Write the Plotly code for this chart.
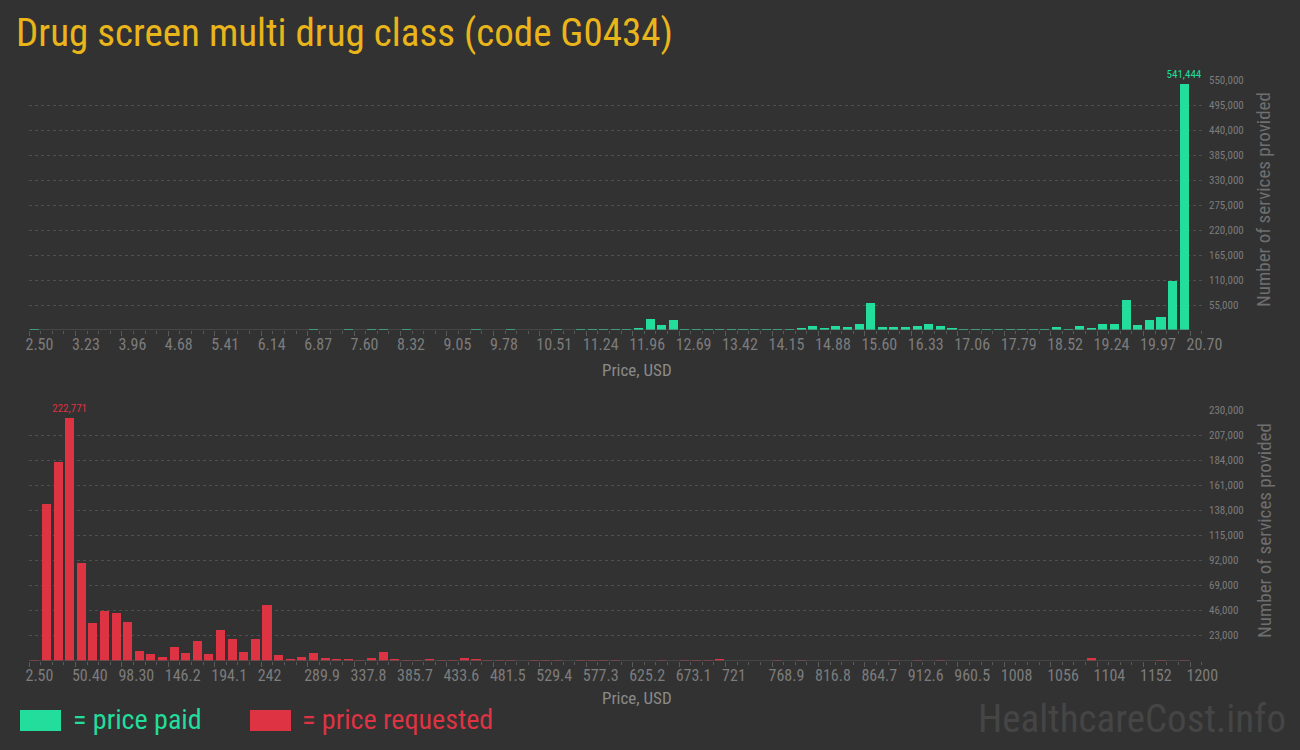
import plotly.graph_objects as go

# ---------------- data ----------------
title_text = "Drug screen multi drug class (code G0434)"

paid_tick_labels = ["2.50", "3.23", "3.96", "4.68", "5.41", "6.14", "6.87", "7.60", "8.32", "9.05",
                    "9.78", "10.51", "11.24", "11.96", "12.69", "13.42", "14.15", "14.88", "15.60",
                    "16.33", "17.06", "17.79", "18.52", "19.24", "19.97", "20.70"]
requested_tick_labels = ["2.50", "50.40", "98.30", "146.2", "194.1", "242", "289.9", "337.8", "385.7",
                         "433.6", "481.5", "529.4", "577.3", "625.2", "673.1", "721", "768.9", "816.8",
                         "864.7", "912.6", "960.5", "1008", "1056", "1104", "1152", "1200"]

paid_min, paid_max = 2.50, 20.70
requested_min, requested_max = 2.50, 1200.0

paid_counts = [
    2200, 0, 0, 0, 0, 0, 0, 0, 0, 0,
    0, 0, 0, 0, 0, 0, 0, 0, 0, 0,
    0, 0, 0, 0, 2200, 0, 0, 2200, 0, 2200,
    2200, 0, 2200, 0, 0, 0, 0, 0, 2200, 0,
    0, 2200, 0, 0, 0, 2200, 0, 2200, 2200, 2200,
    2200, 2200, 4300, 23900, 10100, 21000, 2200, 2200, 2200, 2200,
    2200, 2200, 2200, 2200, 2200, 2200, 4300, 8000, 3600, 8000,
    5800, 12300, 58500, 5800, 5800, 5800, 8000, 12300, 8000, 3600,
    2200, 2200, 2200, 2200, 2200, 2200, 2200, 2200, 5800, 2200,
    8000, 3600, 12300, 12300, 67000, 12000, 21000, 29500, 107000, 541444,
]
requested_counts = [
    900, 143800, 182400, 222771, 89700, 34600, 45600, 43800, 35500, 8900,
    6100, 3400, 12500, 7000, 18000, 6100, 28200, 19900, 8000, 19900,
    51100, 5300, 1700, 3300, 7000, 2400, 1700, 1700, 900, 2400,
    7900, 1700, 900, 900, 1700, 900, 900, 2400, 1700, 900,
    900, 900, 0, 900, 900, 900, 0, 900, 900, 900,
    900, 0, 0, 0, 900, 0, 900, 900, 900, 1700,
    0, 0, 0, 0, 900, 0, 900, 0, 0, 0,
    0, 0, 0, 0, 900, 0, 900, 0, 900, 0,
    0, 0, 0, 0, 0, 0, 0, 0, 0, 0,
    0, 2400, 0, 0, 0, 0, 0, 900, 0, 900,
]
paid_y_ticks = [55000 * i for i in range(1, 11)]
requested_y_ticks = [23000 * i for i in range(1, 11)]

# ---------------- styles ----------------
BG = "#323232"
GREEN = "#22dd9b"
RED = "#de3343"
GOLD = "#e9b51b"
TICK_COL = "#7c7c7c"
GRID_COL = "#4f4f4f"
AXIS_COL = "#5a5a5a"
FONT = "Roboto Condensed, Liberation Sans Narrow, Arial Narrow, DejaVu Sans Condensed, Roboto, sans-serif"

W, H = 1300, 750
x_left_px, x_axis_end_px, x_grid_end_px = 29, 1190, 1205


def px_to_paper_x(p):
    return p / W


def px_to_paper_y(p):
    return 1 - p / H


def build(counts, lo, hi):
    n = len(counts)
    bw = (hi - lo) / n
    centers = [lo + (i + 0.5) * bw for i in range(n)]
    per_px = (hi - lo) / (x_axis_end_px - x_left_px)
    rng = [lo, lo + (x_grid_end_px - x_left_px) * per_px]
    return centers, bw, rng


paid_x, paid_bw, paid_rng = build(paid_counts, paid_min, paid_max)
req_x, req_bw, req_rng = build(requested_counts, requested_min, requested_max)

paid_tickvals = [paid_min + i * (paid_max - paid_min) / (len(paid_tick_labels) - 1) for i in range(len(paid_tick_labels))]
req_tickvals = [requested_min + i * (requested_max - requested_min) / (len(requested_tick_labels) - 1) for i in range(len(requested_tick_labels))]


def peak_text(counts):
    m = max(counts)
    return [f"{v:,}" if v == m else "" for v in counts]


fig = go.Figure()
fig.add_trace(go.Bar(x=paid_x, y=paid_counts, width=paid_bw * 0.78, marker=dict(color=GREEN, line=dict(width=0)),
                     text=peak_text(paid_counts), textposition="outside", constraintext="none",
                     textfont=dict(color=GREEN, size=11, family=FONT), cliponaxis=False,
                     xaxis="x", yaxis="y", showlegend=False, hoverinfo="skip"))
fig.add_trace(go.Bar(x=req_x, y=requested_counts, width=req_bw * 0.78, marker=dict(color=RED, line=dict(width=0)),
                     text=peak_text(requested_counts), textposition="outside", constraintext="none",
                     textfont=dict(color=RED, size=11, family=FONT), cliponaxis=False,
                     xaxis="x2", yaxis="y2", showlegend=False, hoverinfo="skip"))

xdom = [px_to_paper_x(x_left_px), px_to_paper_x(x_grid_end_px)]
top_dom = [px_to_paper_y(330), px_to_paper_y(80)]
bot_dom = [px_to_paper_y(660.5), px_to_paper_y(410)]


def xaxis_cfg(rng, tickvals, ticktext, bw, lo, anchor):
    return dict(domain=xdom, range=rng, anchor=anchor, tickvals=tickvals, ticktext=ticktext,
                automargin=False,
                showgrid=False, zeroline=False, showline=False, ticks="outside", ticklen=5,
                tickcolor=AXIS_COL, tickwidth=1, ticklabelposition="outside right", ticklabelshift=-4,
                tickfont=dict(family=FONT, size=16, color=TICK_COL),
                minor=dict(tick0=lo, dtick=bw, ticks="outside", ticklen=3, tickcolor=AXIS_COL, showgrid=False),
                fixedrange=True)


def yaxis_cfg(dom, tickvals, top, anchor):
    return dict(domain=dom, range=[0, top], anchor=anchor, side="right", tickvals=tickvals,
                automargin=False,
                tickformat=",d", showgrid=True, gridcolor=GRID_COL, griddash="3px,3px", gridwidth=1,
                zeroline=False, showline=False, ticks="", ticklabelstandoff=3,
                tickfont=dict(family=FONT, size=11, color=TICK_COL), fixedrange=True)


fig.update_layout(
    width=W, height=H, paper_bgcolor=BG, plot_bgcolor=BG,
    margin=dict(l=0, r=0, t=0, b=0, autoexpand=False), bargap=0,
    font=dict(family=FONT, color=TICK_COL),
    xaxis=xaxis_cfg(paid_rng, paid_tickvals, paid_tick_labels, paid_bw, paid_min, "y"),
    yaxis=yaxis_cfg(top_dom, paid_y_ticks, paid_y_ticks[-1], "x"),
    xaxis2=xaxis_cfg(req_rng, req_tickvals, requested_tick_labels, req_bw, requested_min, "y2"),
    yaxis2=yaxis_cfg(bot_dom, requested_y_ticks, requested_y_ticks[-1], "x2"),
)

# baselines (axis lines)
fig.add_shape(type="line", xref="x", yref="y", x0=paid_min, x1=paid_max, y0=0, y1=0,
              line=dict(color=AXIS_COL, width=1))
fig.add_shape(type="line", xref="x2", yref="y2", x0=requested_min, x1=requested_max, y0=0, y1=0,
              line=dict(color=AXIS_COL, width=1))

ann = []
ann.append(dict(text=title_text, x=px_to_paper_x(14), y=px_to_paper_y(33), xref="paper", yref="paper",
                xanchor="left", yanchor="middle", showarrow=False,
                font=dict(family=FONT, size=39, color=GOLD)))
for yc in (370, 698):
    ann.append(dict(text="Price, USD", x=px_to_paper_x(637), y=px_to_paper_y(yc), xref="paper", yref="paper",
                    xanchor="center", yanchor="middle", showarrow=False,
                    font=dict(family=FONT, size=17, color="#8a8a8a")))
for yc in (200, 531):
    ann.append(dict(text="Number of services provided", x=px_to_paper_x(1264), y=px_to_paper_y(yc),
                    xref="paper", yref="paper", xanchor="center", yanchor="middle", textangle=-90,
                    showarrow=False, font=dict(family=FONT, size=19, color="#6f6f6f")))
# legend
fig.add_shape(type="rect", xref="paper", yref="paper", x0=px_to_paper_x(20), x1=px_to_paper_x(61),
              y0=px_to_paper_y(731), y1=px_to_paper_y(710), fillcolor=GREEN, line=dict(width=0))
fig.add_shape(type="rect", xref="paper", yref="paper", x0=px_to_paper_x(250), x1=px_to_paper_x(291),
              y0=px_to_paper_y(731), y1=px_to_paper_y(710), fillcolor=RED, line=dict(width=0))
ann.append(dict(text="= price paid", x=px_to_paper_x(71), y=px_to_paper_y(719), xref="paper", yref="paper",
                xanchor="left", yanchor="middle", showarrow=False, font=dict(family=FONT, size=28, color=GREEN)))
ann.append(dict(text="= price requested", x=px_to_paper_x(300), y=px_to_paper_y(719), xref="paper", yref="paper",
                xanchor="left", yanchor="middle", showarrow=False, font=dict(family=FONT, size=28, color=RED)))
ann.append(dict(text="HealthcareCost.info", x=px_to_paper_x(1288), y=px_to_paper_y(719), xref="paper",
                yref="paper", xanchor="right", yanchor="middle", showarrow=False,
                font=dict(family=FONT, size=39, color="#454545")))
fig.update_layout(annotations=ann)

fig.write_html("out.html", config={"displayModeBar": False, "staticPlot": True},
               post_script="document.body.style.margin='0';document.body.style.overflow='hidden';"
                           "document.body.style.background='" + BG + "';")
